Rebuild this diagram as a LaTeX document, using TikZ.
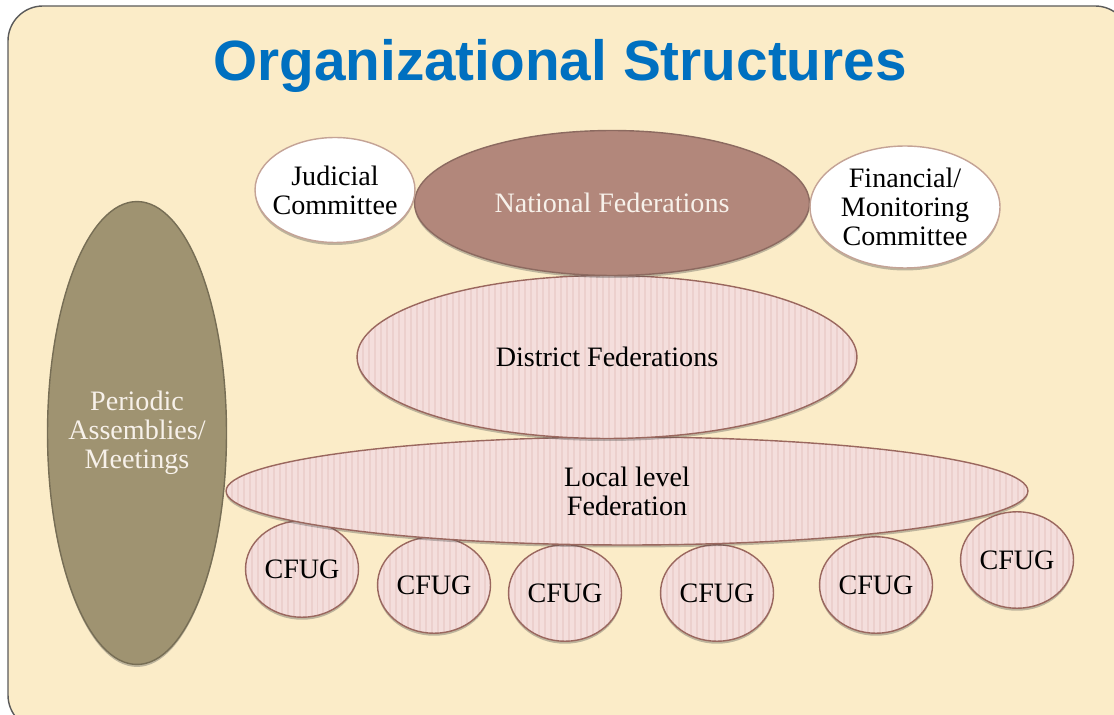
\documentclass[tikz,border=0pt]{standalone}
\usepackage{fontspec}
\setmainfont{Liberation Serif}
\newfontfamily\titlefont{Liberation Sans}
\usetikzlibrary{shapes.geometric,shadows}
\definecolor{slidebg}{HTML}{FBECC8}
\definecolor{slideline}{HTML}{5A5A5A}
\definecolor{titleblue}{HTML}{0070C0}
\definecolor{natfill}{HTML}{B2877B}
\definecolor{natline}{HTML}{8C6A60}
\definecolor{assfill}{HTML}{9F9371}
\definecolor{assline}{HTML}{776E55}
\definecolor{pinkfill}{HTML}{F4DEDC}
\definecolor{pinkstripe}{HTML}{ECD0CD}
\definecolor{pinkline}{HTML}{9A675E}
\definecolor{whiteline}{HTML}{C4A396}
\definecolor{lighttext}{HTML}{F7F1EA}
\begin{document}
\begin{tikzpicture}[x=0.02cm, y=-0.02cm,
	every node/.style={font=\fontsize{16}{16.6}\selectfont, align=center},
	blob/.style={ellipse, inner sep=-0.25cm, line width=0.8pt,
		drop shadow={shadow xshift=0pt, shadow yshift=-0.05cm, opacity=0.35, fill=black!70}},
	committee/.style={blob, draw=whiteline, fill=white},
	federation/.style={blob, draw=pinkline, fill=pinkfill,
		path picture={\foreach \i in {0,...,140}{
			\draw[pinkstripe, line width=0.04cm]
			([xshift=\i*0.12cm]path picture bounding box.south west) --
			([xshift=\i*0.12cm]path picture bounding box.north west);}}},
	cfug/.style={federation, minimum width=2.26cm, minimum height=1.93cm}]
	%slide
	\useasboundingbox (0,0) rectangle (1114,715);
	\draw[slideline, fill=slidebg, line width=0.8pt, rounded corners=0.7cm] (8,6) rectangle (1130,730);
	\node (title) at (560,66) {\titlefont\bfseries\fontsize{32.3}{35}\selectfont\color{titleblue}Organizational Structures};
	
	%assemblies
	\node (assembly) at (137,433) [blob, draw=assline, fill=assfill, text=lighttext,
		minimum width=3.58cm, minimum height=9.26cm] {Periodic\\Assemblies/\\Meetings};
	
	%CFUGs
	\node (cfugA) at (302,569) [cfug] {CFUG};
	\node (cfugB) at (434,585) [cfug] {CFUG};
	\node (cfugC) at (565,593) [cfug] {CFUG};
	\node (cfugD) at (717,593) [cfug] {CFUG};
	\node (cfugE) at (876,585) [cfug] {CFUG};
	\node (cfugF) at (1017,560) [cfug] {CFUG};
	
	%federations
	\node (local) at (627,491) [federation, minimum width=16.04cm, minimum height=2.16cm] {Local level\\Federation};
	\node (district) at (607,357) [federation, minimum width=10cm, minimum height=3.26cm] {District Federations};
	\node (national) at (612,203) [blob, draw=natline, fill=natfill, text=lighttext,
		minimum width=7.9cm, minimum height=2.9cm] {National Federations};
	
	%committees
	\node (judicial) at (335,190) [committee, minimum width=3.2cm, minimum height=2.1cm] {Judicial\\Committee};
	\node (finance) at (905,207) [committee, minimum width=3.8cm, minimum height=2.44cm] {Financial/\\Monitoring\\Committee};
\end{tikzpicture}
\end{document}
